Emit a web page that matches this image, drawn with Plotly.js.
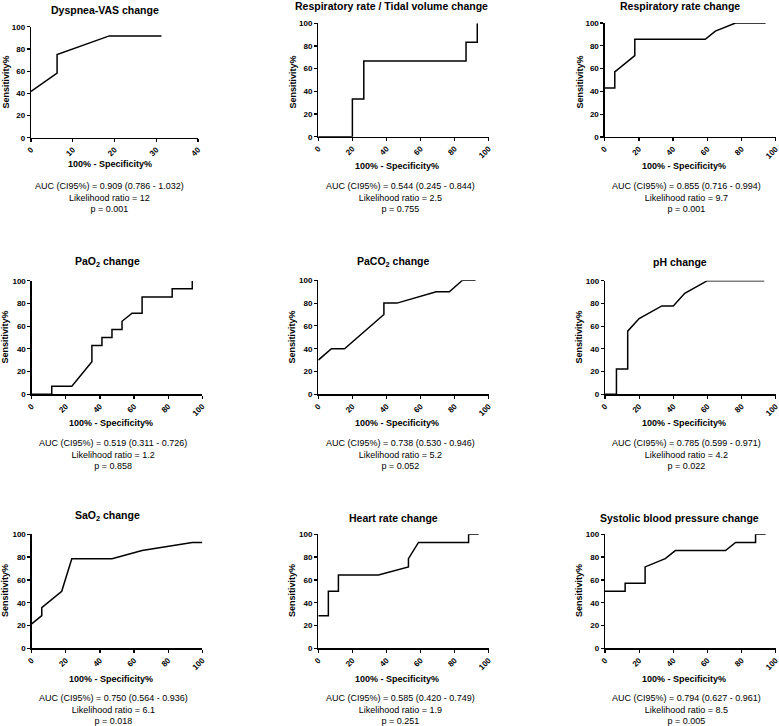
<!DOCTYPE html>
<html><head><meta charset="utf-8">
<script src="https://cdn.plot.ly/plotly-3.0.1.min.js"></script>
<style>html,body{margin:0;padding:0;background:#fff}</style>
</head><body><div id="chart" style="width:779px;height:726px"></div>
<script>
// ---- data ----
const panelTitles = ["Dyspnea-VAS change", "Respiratory rate / Tidal volume change", "Respiratory rate change",
  "PaO<sub>2</sub> change", "PaCO<sub>2</sub> change", "pH change",
  "SaO<sub>2</sub> change", "Heart rate change", "Systolic blood pressure change"];
const xAxisTitle = "100% - Specificity%";
const yAxisTitle = "Sensitivity%";
const aucText = ["0.909 (0.786 - 1.032)", "0.544 (0.245 - 0.844)", "0.855 (0.716 - 0.994)",
  "0.519 (0.311 - 0.726)", "0.738 (0.530 - 0.946)", "0.785 (0.599 - 0.971)",
  "0.750 (0.564 - 0.936)", "0.585 (0.420 - 0.749)", "0.794 (0.627 - 0.961)"];
const likelihoodRatio = ["12", "2.5", "9.7", "1.2", "5.2", "4.2", "6.1", "1.9", "8.5"];
const pValues = ["0.001", "0.755", "0.001", "0.858", "0.052", "0.022", "0.018", "0.251", "0.005"];
const xMax = [40, 100, 100, 100, 100, 100, 100, 100, 100];

const dyspneaX = [0, 6.25, 6.25, 18.75, 31.25];
const dyspneaY = [41.7, 58.3, 75, 91.7, 91.7];
const rrTvX = [0, 20, 20, 26.7, 26.7, 86.7, 86.7, 93.3, 93.3];
const rrTvY = [0, 0, 33.3, 33.3, 66.7, 66.7, 83.3, 83.3, 100];
const rrX = [0, 5.9, 5.9, 17.6, 17.6, 58.8, 64.7, 76.5, 94.1];
const rrY = [42.9, 42.9, 57.1, 71.4, 85.7, 85.7, 92.9, 100, 100];
const pao2X = [0, 11.76, 11.76, 23.53, 35.29, 35.29, 41.18, 41.18, 47.06, 47.06, 52.94, 52.94, 58.82, 64.71, 64.71, 82.35, 82.35, 94.12, 94.12];
const pao2Y = [0, 0, 7.14, 7.14, 28.57, 42.86, 42.86, 50, 50, 57.14, 57.14, 64.29, 71.43, 71.43, 85.71, 85.71, 92.86, 92.86, 100];
const paco2X = [0, 7.7, 15.4, 38.5, 38.5, 46.2, 69.2, 76.9, 84.6, 92.3];
const paco2Y = [30, 40, 40, 70, 80, 80, 90, 90, 100, 100];
const phX = [0, 6.7, 6.7, 13.3, 13.3, 20, 33.3, 40, 46.7, 60, 93.3];
const phY = [0, 0, 22.2, 22.2, 55.6, 66.7, 77.8, 77.8, 88.9, 100, 100];
const sao2X = [0, 5.9, 5.9, 17.6, 23.5, 47.1, 64.7, 94.1, 100];
const sao2Y = [21.4, 28.6, 35.7, 50, 78.6, 78.6, 85.7, 92.9, 92.9];
const hrX = [0, 5.9, 5.9, 11.8, 11.8, 35.3, 52.9, 52.9, 58.8, 88.2, 88.2, 94.1];
const hrY = [28.6, 28.6, 50, 50, 64.3, 64.3, 71.4, 78.6, 92.9, 92.9, 100, 100];
const sbpX = [0, 11.8, 11.8, 23.5, 23.5, 35.3, 41.2, 70.6, 76.5, 88.2, 88.2, 94.1];
const sbpY = [50, 50, 57.1, 57.1, 71.4, 78.6, 85.7, 85.7, 92.9, 92.9, 100, 100];

const seriesX = [dyspneaX, rrTvX, rrX, pao2X, paco2X, phX, sao2X, hrX, sbpX];
const seriesY = [dyspneaY, rrTvY, rrY, pao2Y, paco2Y, phY, sao2Y, hrY, sbpY];

// ---- layout (pixel geometry) ----
const W = 779, H = 726;
const boxes = [ // [x0, x1, yTop, yBottom]
  [31, 198, 26.7, 137.7], [318.3, 488.7, 23.3, 136.7], [604.7, 775.7, 23, 137],
  [31.7, 202.3, 280.7, 394.3], [318.3, 488.7, 280.3, 394.3], [605, 775.7, 280.7, 394.3],
  [31.7, 202.3, 534.3, 648.3], [318.3, 488.7, 534.3, 648.3], [605, 775.7, 534.3, 648.3]
];
const titlePos = [[104.7, 10], [391.7, 6], [679.5, 6], [107.3, 261.7], [394, 261.5], [679.8, 261.7],
  [107, 515.7], [393.3, 517.7], [679, 517.7]];
const xTitlePos = [[110, 164.3], [397, 165.7], [684, 165.7], [110.5, 423.3], [397, 423.3], [684, 423.3],
  [110.5, 679], [397, 679], [684, 679]];
const yTitleX = [5, 292, 579];
const yTitleY = [82.5, 337.5, 591];
const statPos = [[110, 198], [400, 198], [686, 198], [113, 455], [400, 455], [686, 455],
  [113, 709.3], [400, 709.3], [686, 709.3]];

const FONT = "Liberation Sans, Arial, Helvetica, sans-serif";
const px = v => v / W, py = v => 1 - v / H;

const traces = [];
const layout = {
  width: W, height: H, margin: {l: 0, r: 0, t: 0, b: 0},
  paper_bgcolor: "#fff", plot_bgcolor: "#fff", showlegend: false,
  font: {family: FONT, color: "#000"},
  annotations: []
};

for (let i = 0; i < 9; i++) {
  const n = i === 0 ? "" : String(i + 1);
  const b = boxes[i];
  traces.push({
    x: seriesX[i], y: seriesY[i], type: "scatter", mode: "lines",
    xaxis: "x" + n, yaxis: "y" + n,
    line: {color: "#000", width: 1.5}, hoverinfo: "x+y"
  });
  const axCommon = {
    showline: true, linecolor: "#000", linewidth: 1.3, showgrid: false, zeroline: false,
    ticks: "outside", ticklen: 3, tickwidth: 1.2, tickcolor: "#000", ticklabeloverflow: "allow",
    tickfont: {family: FONT, size: 8, color: "#000", weight: "bold"}, fixedrange: true
  };
  layout["xaxis" + n] = Object.assign({}, axCommon, {
    domain: [px(b[0]), px(b[1])], range: [0, xMax[i]], dtick: xMax[i] === 40 ? 10 : 20,
    tickangle: -45, anchor: "y" + n
  });
  layout["yaxis" + n] = Object.assign({}, axCommon, {
    domain: [py(b[3]), py(b[2])], range: [0, 100], dtick: 20, anchor: "x" + n
  });
  layout.annotations.push({
    xref: "paper", yref: "paper", x: px(titlePos[i][0]), y: py(titlePos[i][1]),
    xanchor: "center", yanchor: "middle", showarrow: false, text: "<b>" + panelTitles[i] + "</b>",
    font: {family: FONT, size: 10.5, color: "#000"}
  });
  layout.annotations.push({
    xref: "paper", yref: "paper", x: px(xTitlePos[i][0]), y: py(xTitlePos[i][1]),
    xanchor: "center", yanchor: "middle", showarrow: false, text: "<b>" + xAxisTitle + "</b>",
    font: {family: FONT, size: 9, color: "#000"}
  });
  layout.annotations.push({
    xref: "paper", yref: "paper", x: px(yTitleX[i % 3]), y: py(yTitleY[Math.floor(i / 3)]),
    xanchor: "center", yanchor: "middle", showarrow: false, textangle: -90,
    text: "<b>" + yAxisTitle + "</b>", font: {family: FONT, size: 9, color: "#000"}
  });
  layout.annotations.push({
    xref: "paper", yref: "paper", x: px(statPos[i][0]), y: py(statPos[i][1]),
    xanchor: "center", yanchor: "middle", showarrow: false, align: "center",
    text: "AUC (CI95%) = " + aucText[i] + "<br>Likelihood ratio = " + likelihoodRatio[i] + "<br>p = " + pValues[i],
    font: {family: FONT, size: 9, color: "#000"}
  });
}

Plotly.newPlot("chart", traces, layout, {displayModeBar: false, staticPlot: true});
</script></body></html>
